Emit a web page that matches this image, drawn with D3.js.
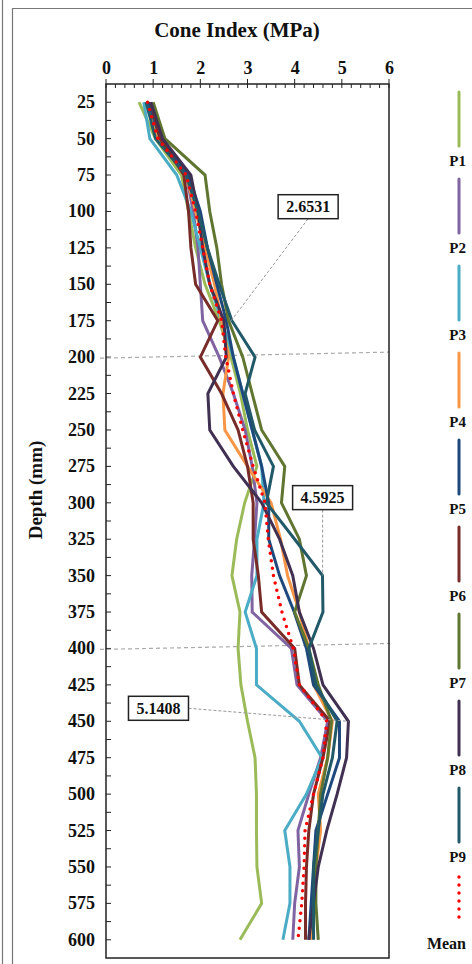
<!DOCTYPE html>
<html>
<head>
<meta charset="utf-8">
<script src="https://cdn.jsdelivr.net/npm/d3@7"></script>
<style>
  body { margin: 0; background: #fff; }
  text { font-family: "Liberation Serif", "Times New Roman", serif; font-weight: bold; fill: #111; }
</style>
</head>
<body>
<svg id="chart" width="472" height="964" viewBox="0 0 472 964"></svg>
<script>
// depths (mm) and cone index (MPa) for each probe
const depths = [25,50,75,100,125,150,175,200,225,250,275,300,325,350,375,400,425,450,475,500,525,550,575,600]
const P1 = [0.70,1.05,1.60,1.75,1.90,2.10,2.40,2.65,2.85,3.00,3.20,2.94,2.77,2.67,2.84,2.80,2.86,3.00,3.16,3.19,3.19,3.20,3.30,2.84]
const P2 = [0.85,1.10,1.70,1.85,1.95,2.00,2.05,2.40,2.70,2.95,3.10,3.20,3.15,3.09,3.10,3.93,4.05,4.70,4.55,4.30,4.07,4.10,4.00,3.96]
const P3 = [0.80,0.93,1.50,1.80,2.00,2.20,2.45,2.70,2.90,3.10,3.30,3.35,3.20,3.20,2.95,3.19,3.19,4.10,4.58,4.25,3.79,3.90,3.90,3.75]
const P4 = [0.90,1.10,1.70,1.90,2.10,2.30,2.45,2.60,2.48,2.52,3.00,3.50,3.70,3.85,4.10,4.30,4.40,4.80,4.70,4.50,4.55,4.45,4.40,4.35]
const P5 = [0.90,1.15,1.75,2.00,2.15,2.35,2.55,2.70,2.90,3.10,3.30,3.45,3.45,3.68,3.99,4.25,4.40,4.95,4.95,4.70,4.45,4.40,4.35,4.30]
const P6 = [0.95,1.15,1.65,1.75,1.80,1.90,2.37,2.00,2.45,2.80,3.00,3.12,3.12,3.23,3.30,4.00,4.10,4.75,4.60,4.40,4.30,4.25,4.23,4.23]
const P7 = [1.00,1.25,2.10,2.20,2.35,2.45,2.60,2.90,3.10,3.30,3.79,3.72,4.10,4.25,4.00,4.30,4.50,4.78,4.70,4.55,4.50,4.45,4.45,4.50]
const P8 = [0.95,1.20,1.80,1.95,2.05,2.20,2.50,2.55,2.16,2.20,2.70,3.30,3.68,3.96,4.10,4.40,4.60,5.14,5.10,4.90,4.68,4.50,4.40,4.30]
const P9 = [0.85,1.05,1.70,1.95,2.15,2.40,2.67,3.16,2.95,3.15,3.55,3.40,4.00,4.59,4.60,4.30,4.45,4.90,4.80,4.60,4.50,4.40,4.40,4.40]
const Mean = [0.88,1.10,1.70,1.90,2.05,2.20,2.45,2.54,2.70,2.90,3.12,3.37,3.44,3.55,3.73,3.97,4.10,4.68,4.60,4.40,4.22,4.20,4.15,4.07]

const seriesNames = ["P1","P2","P3","P4","P5","P6","P7","P8","P9","Mean"]
const seriesValues = [P1,P2,P3,P4,P5,P6,P7,P8,P9,Mean]
const seriesColors = ["#9BBB59","#8064A2","#4BACC6","#F79646","#1F497D","#772C2A","#5F7530","#403152","#215968","#FF0000"]

const xTicks = [0,1,2,3,4,5,6]
const yTicks = [25,50,75,100,125,150,175,200,225,250,275,300,325,350,375,400,425,450,475,500,525,550,575,600]

// callouts: value, depth
const calloutValues = [2.6531, 4.5925, 5.1408]
const calloutDepths = [175, 350, 450]
const layerDepths = [200, 400]

const svg = d3.select("#chart")
const plotLeft = 106, plotRight = 389, plotTop = 84, plotBottom = 958

const x = d3.scaleLinear().domain([0,6]).range([plotLeft,plotRight])
const y = d3.scaleLinear().domain([12.5,612.5]).range([plotTop,plotBottom])

// outer frame lines
svg.append("line").attr("x1",2.5).attr("x2",2.5).attr("y1",0).attr("y2",964)
    .attr("stroke","#777").attr("stroke-width",1.2)
svg.append("line").attr("x1",12.5).attr("x2",12.5).attr("y1",8).attr("y2",964)
    .attr("stroke","#777").attr("stroke-width",1.2)
svg.append("line").attr("x1",12.5).attr("x2",472).attr("y1",8.5).attr("y2",8.5)
    .attr("stroke","#777").attr("stroke-width",1.2)

// title
svg.append("text")
    .attr("x",237).attr("y",37)
    .attr("text-anchor","middle")
    .style("font-size","21px")
    .text("Cone Index (MPa)")

svg.append("text")
    .attr("transform","translate(42,490) rotate(-90)")
    .attr("text-anchor","middle")
    .style("font-size","19px")
    .text("Depth (mm)")

// top axis
const xAxis = d3.axisTop(x).tickValues(xTicks).tickSize(0).tickFormat(d3.format("d"))
const gx = svg.append("g").attr("transform",`translate(0,${plotTop})`).call(xAxis)
gx.select(".domain").remove()
gx.selectAll("text").attr("y",-10).style("font-size","18px")
    .style("font-family","Liberation Serif").style("font-weight","bold")

// minor ticks on top
const minorX = d3.range(0,6.001,0.2)
svg.append("g").selectAll("line").data(minorX).enter().append("line")
    .attr("x1",d=>x(d)).attr("x2",d=>x(d))
    .attr("y1",function(d){ return Math.abs(d-Math.round(d))<1e-6 ? plotTop-5 : plotTop })
    .attr("y2",plotTop+4)
    .attr("stroke","#222").attr("stroke-width",1)

// left axis labels + ticks
svg.append("g").selectAll("text").data(yTicks).enter().append("text")
    .attr("x",95).attr("y",d=>y(d)+6)
    .attr("text-anchor","end")
    .style("font-size","18px")
    .text(d=>d)
const minorY = d3.range(25,612.5,12.5)
svg.append("g").selectAll("line").data(minorY).enter().append("line")
    .attr("x1",plotLeft).attr("x2",plotLeft+5)
    .attr("y1",d=>y(d)).attr("y2",d=>y(d))
    .attr("stroke","#222").attr("stroke-width",1)

// dashed layer lines
svg.append("g").selectAll("line").data(layerDepths).enter().append("line")
    .attr("x1",plotLeft-6).attr("x2",plotRight)
    .attr("y1",d=>y(d)+1).attr("y2",d=>y(d)-5)
    .attr("stroke","#aaa").attr("stroke-width",1.2).attr("stroke-dasharray","4,3")

// series lines
const lineGen = d3.line().x(d=>x(d.v)).y(d=>y(d.depth))
seriesValues.forEach(function(vals,i){
    let pts = vals.map(function(v,j){ return {v:v, depth:depths[j]} })
    let path = svg.append("path")
        .datum(pts)
        .attr("d",lineGen)
        .attr("fill","none")
        .attr("stroke",seriesColors[i])
        .attr("stroke-linejoin","miter")
    if (seriesNames[i]=="Mean") {
        path.attr("stroke-width",3.5).attr("stroke-linecap","round").attr("stroke-dasharray","0,7.5")
    } else {
        path.attr("stroke-width",3)
    }
})

// plot frame
svg.append("rect").attr("x",plotLeft).attr("y",plotTop)
    .attr("width",plotRight-plotLeft).attr("height",plotBottom-plotTop)
    .attr("fill","none").attr("stroke","#222").attr("stroke-width",1.5)

// callouts
const boxOffsets = [[77,-114],[0,-78],[-190,-13]]
calloutValues.forEach(function(v,i){
    let px = x(v), py = y(calloutDepths[i])
    let bx = px + boxOffsets[i][0], by = py + boxOffsets[i][1]
    let bw = 60, bh = 24
    let lx, ly
    if (i==2) { lx = bx + bw/2; ly = by } else { lx = bx; ly = by + bh/2 }
    svg.append("line").attr("x1",lx).attr("y1",ly).attr("x2",px).attr("y2",py)
        .attr("stroke","#999").attr("stroke-width",1).attr("stroke-dasharray","3,2")
    svg.append("rect").attr("x",bx-bw/2).attr("y",by-bh/2).attr("width",bw).attr("height",bh)
        .attr("fill","#fff").attr("stroke","#222").attr("stroke-width",1.5)
    svg.append("text").attr("x",bx).attr("y",by+5.5)
        .attr("text-anchor","middle").style("font-size","16px")
        .text(v.toFixed(4))
})

// legend
const legend = svg.append("g")
seriesNames.forEach(function(name,i){
    let y0 = 92 + i*87
    let seg = legend.append("line")
        .attr("x1",459).attr("x2",459).attr("y1",y0).attr("y2",y0+54)
        .attr("stroke",seriesColors[i])
    if (name=="Mean") {
        seg.attr("stroke-width",3.5).attr("stroke-linecap","round").attr("stroke-dasharray","0,8")
            .attr("y1",y0+2).attr("y2",y0+50)
    } else {
        seg.attr("stroke-width",3).attr("stroke-linecap","round")
    }
    legend.append("text")
        .attr("x",466).attr("y",y0+74)
        .attr("text-anchor","end")
        .style("font-size",name=="Mean" ? "16px" : "15px")
        .text(name)
})
</script>
</body>
</html>
